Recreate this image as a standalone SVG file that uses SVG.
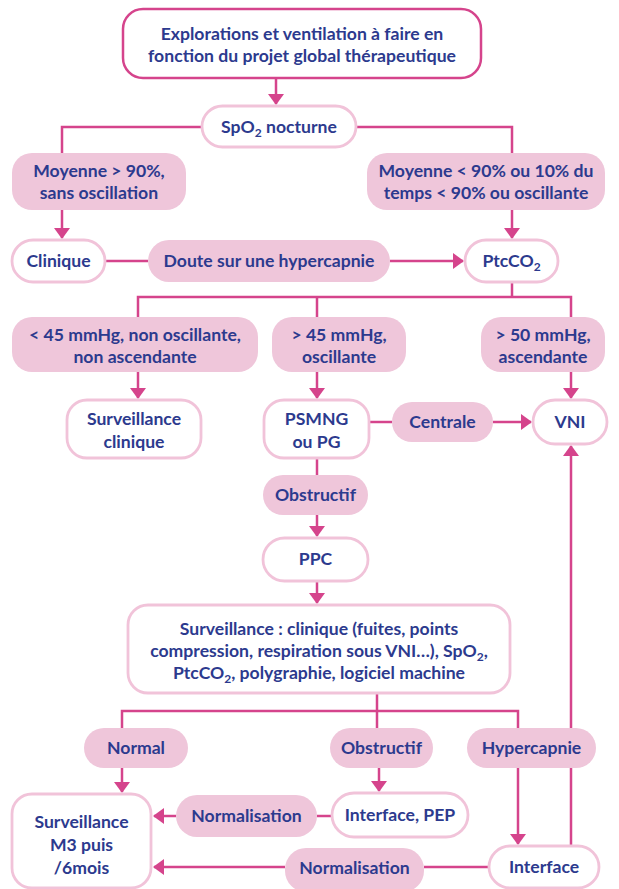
<svg xmlns="http://www.w3.org/2000/svg" width="619" height="889" viewBox="0 0 619 889">
<style>
.bg{fill:#ffffff}
.main{fill:#ffffff;stroke:#d5448c;stroke-width:2.5}
.box{fill:#ffffff;stroke:#f1c3d9;stroke-width:2.8}
.lab{fill:#efc6da;stroke:none}
.t{font-family:Lato,"Open Sans","Liberation Sans",sans-serif;font-weight:700;font-size:17.6px;fill:#2c3a8e;text-anchor:middle}
.c{fill:none;stroke:#d5448c;stroke-width:2.5}
.a{marker-end:url(#ah)}
</style>
<defs>
<marker id="ah" viewBox="0 0 11 16" refX="10" refY="8" markerWidth="11" markerHeight="16" markerUnits="userSpaceOnUse" orient="auto">
<path d="M0,0 L11,8 L0,16 z" fill="#d5448c"/>
</marker>
</defs>
<rect class="bg" x="0" y="0" width="619" height="889"/>

<g id="connectors">
<path class="c a" d="M276,78 V104"/>
<path class="c" d="M62,153 V127 H202 M356,127 H512 V153"/>
<path class="c a" d="M62,210 V238"/>
<path class="c a" d="M512,210 V238"/>
<path class="c" d="M105,261 H148"/>
<path class="c a" d="M390,261 H463"/>
<path class="c" d="M512,282 V297 M138,317 V297 H571 V317 M317,297 V317"/>
<path class="c a" d="M138,372 V398"/>
<path class="c a" d="M317,372 V398"/>
<path class="c a" d="M571,372 V398"/>
<path class="c" d="M369,422 H392"/>
<path class="c a" d="M493,422 H531"/>
<path class="c" d="M317,458 V475"/>
<path class="c a" d="M317,515 V536"/>
<path class="c a" d="M317,581 V603"/>
<path class="c" d="M377,693 V728 M122,728 V711 H518 V728"/>
<path class="c a" d="M122,768 V792"/>
<path class="c a" d="M379,768 V791"/>
<path class="c a" d="M518,768 V844"/>
<path class="c a" d="M571,846 V446"/>
<path class="c" d="M317,816 H332"/>
<path class="c a" d="M176,816 H154"/>
<path class="c" d="M489,867 H424"/>
<path class="c a" d="M285,867 H154"/>
</g>

<g id="n-top">
<rect class="main" x="123" y="9" width="358" height="69" rx="20"/>
<text class="t" x="302" y="40">Explorations et ventilation à faire en</text>
<text class="t" x="302" y="62">fonction du projet global thérapeutique</text>
</g>
<g id="n-spo2">
<rect class="box" x="202" y="106" width="154" height="41" rx="20.5"/>
<text class="t" x="279" y="133">SpO<tspan font-size="12" dy="4">2</tspan><tspan dy="-4"> nocturne</tspan></text>
</g>
<g id="l-moy-sup">
<rect class="lab" x="12" y="153" width="174" height="57" rx="20"/>
<text class="t" x="99" y="177">Moyenne &gt; 90%,</text>
<text class="t" x="99" y="199">sans oscillation</text>
</g>
<g id="l-moy-inf">
<rect class="lab" x="367" y="153" width="238" height="57" rx="20"/>
<text class="t" x="486" y="177">Moyenne &lt; 90% ou 10% du</text>
<text class="t" x="486" y="199">temps &lt; 90% ou oscillante</text>
</g>
<g id="n-clinique">
<rect class="box" x="12" y="240" width="93" height="42" rx="21"/>
<text class="t" x="58.5" y="267">Clinique</text>
</g>
<g id="l-doute">
<rect class="lab" x="148" y="240" width="242" height="42" rx="21"/>
<text class="t" x="269" y="267">Doute sur une hypercapnie</text>
</g>
<g id="n-ptcco2">
<rect class="box" x="465" y="240" width="93" height="42" rx="21"/>
<text class="t" x="511.5" y="267">PtcCO<tspan font-size="12" dy="4">2</tspan></text>
</g>
<g id="l-45-non">
<rect class="lab" x="12" y="317" width="246" height="55" rx="20"/>
<text class="t" x="135" y="341">&lt; 45 mmHg, non oscillante,</text>
<text class="t" x="135" y="363">non ascendante</text>
</g>
<g id="l-45-osc">
<rect class="lab" x="272" y="317" width="134" height="55" rx="20"/>
<text class="t" x="339" y="341">&gt; 45 mmHg,</text>
<text class="t" x="339" y="363">oscillante</text>
</g>
<g id="l-50">
<rect class="lab" x="481" y="317" width="124" height="55" rx="20"/>
<text class="t" x="543" y="341">&gt; 50 mmHg,</text>
<text class="t" x="543" y="363">ascendante</text>
</g>
<g id="n-surv-clin">
<rect class="box" x="67" y="400" width="134" height="58" rx="20"/>
<text class="t" x="134" y="425">Surveillance</text>
<text class="t" x="134" y="448">clinique</text>
</g>
<g id="n-psmng">
<rect class="box" x="264" y="400" width="105" height="58" rx="20"/>
<text class="t" x="316.5" y="425">PSMNG</text>
<text class="t" x="316.5" y="448">ou PG</text>
</g>
<g id="l-centrale">
<rect class="lab" x="392" y="402" width="101" height="40" rx="20"/>
<text class="t" x="442.5" y="428">Centrale</text>
</g>
<g id="n-vni">
<rect class="box" x="533" y="400" width="74" height="44" rx="22"/>
<text class="t" x="570" y="428">VNI</text>
</g>
<g id="l-obstructif1">
<rect class="lab" x="263" y="475" width="105" height="40" rx="20"/>
<text class="t" x="315.5" y="501">Obstructif</text>
</g>
<g id="n-ppc">
<rect class="box" x="263" y="538" width="105" height="43" rx="21.5"/>
<text class="t" x="315.5" y="565">PPC</text>
</g>
<g id="n-surveillance">
<rect class="box" x="128" y="605" width="382" height="88" rx="20"/>
<text class="t" x="319" y="635">Surveillance : clinique (fuites, points</text>
<text class="t" x="319" y="657">compression, respiration sous VNI…), SpO<tspan font-size="12" dy="4">2</tspan><tspan dy="-4">,</tspan></text>
<text class="t" x="319" y="679">PtcCO<tspan font-size="12" dy="4">2</tspan><tspan dy="-4">, polygraphie, logiciel machine</tspan></text>
</g>
<g id="l-normal">
<rect class="lab" x="84" y="728" width="104" height="40" rx="20"/>
<text class="t" x="136" y="754">Normal</text>
</g>
<g id="l-obstructif2">
<rect class="lab" x="330" y="728" width="103" height="40" rx="20"/>
<text class="t" x="381.5" y="754">Obstructif</text>
</g>
<g id="l-hypercapnie">
<rect class="lab" x="467" y="728" width="129" height="40" rx="20"/>
<text class="t" x="531.5" y="754">Hypercapnie</text>
</g>
<g id="n-surv-m3">
<rect class="box" x="12" y="794" width="139" height="94" rx="20"/>
<text class="t" x="81.5" y="828">Surveillance</text>
<text class="t" x="81.5" y="851">M3 puis</text>
<text class="t" x="81.5" y="874">/6mois</text>
</g>
<g id="l-normalisation1">
<rect class="lab" x="176" y="795" width="141" height="42" rx="21"/>
<text class="t" x="246.5" y="822">Normalisation</text>
</g>
<g id="n-interface-pep">
<rect class="box" x="332" y="793" width="136" height="44" rx="22"/>
<text class="t" x="400" y="821">Interface, PEP</text>
</g>
<g id="l-normalisation2">
<rect class="lab" x="285" y="848" width="139" height="44" rx="21"/>
<text class="t" x="354.5" y="874">Normalisation</text>
</g>
<g id="n-interface">
<rect class="box" x="489" y="846" width="110" height="42" rx="21"/>
<text class="t" x="544" y="873">Interface</text>
</g>
</svg>
